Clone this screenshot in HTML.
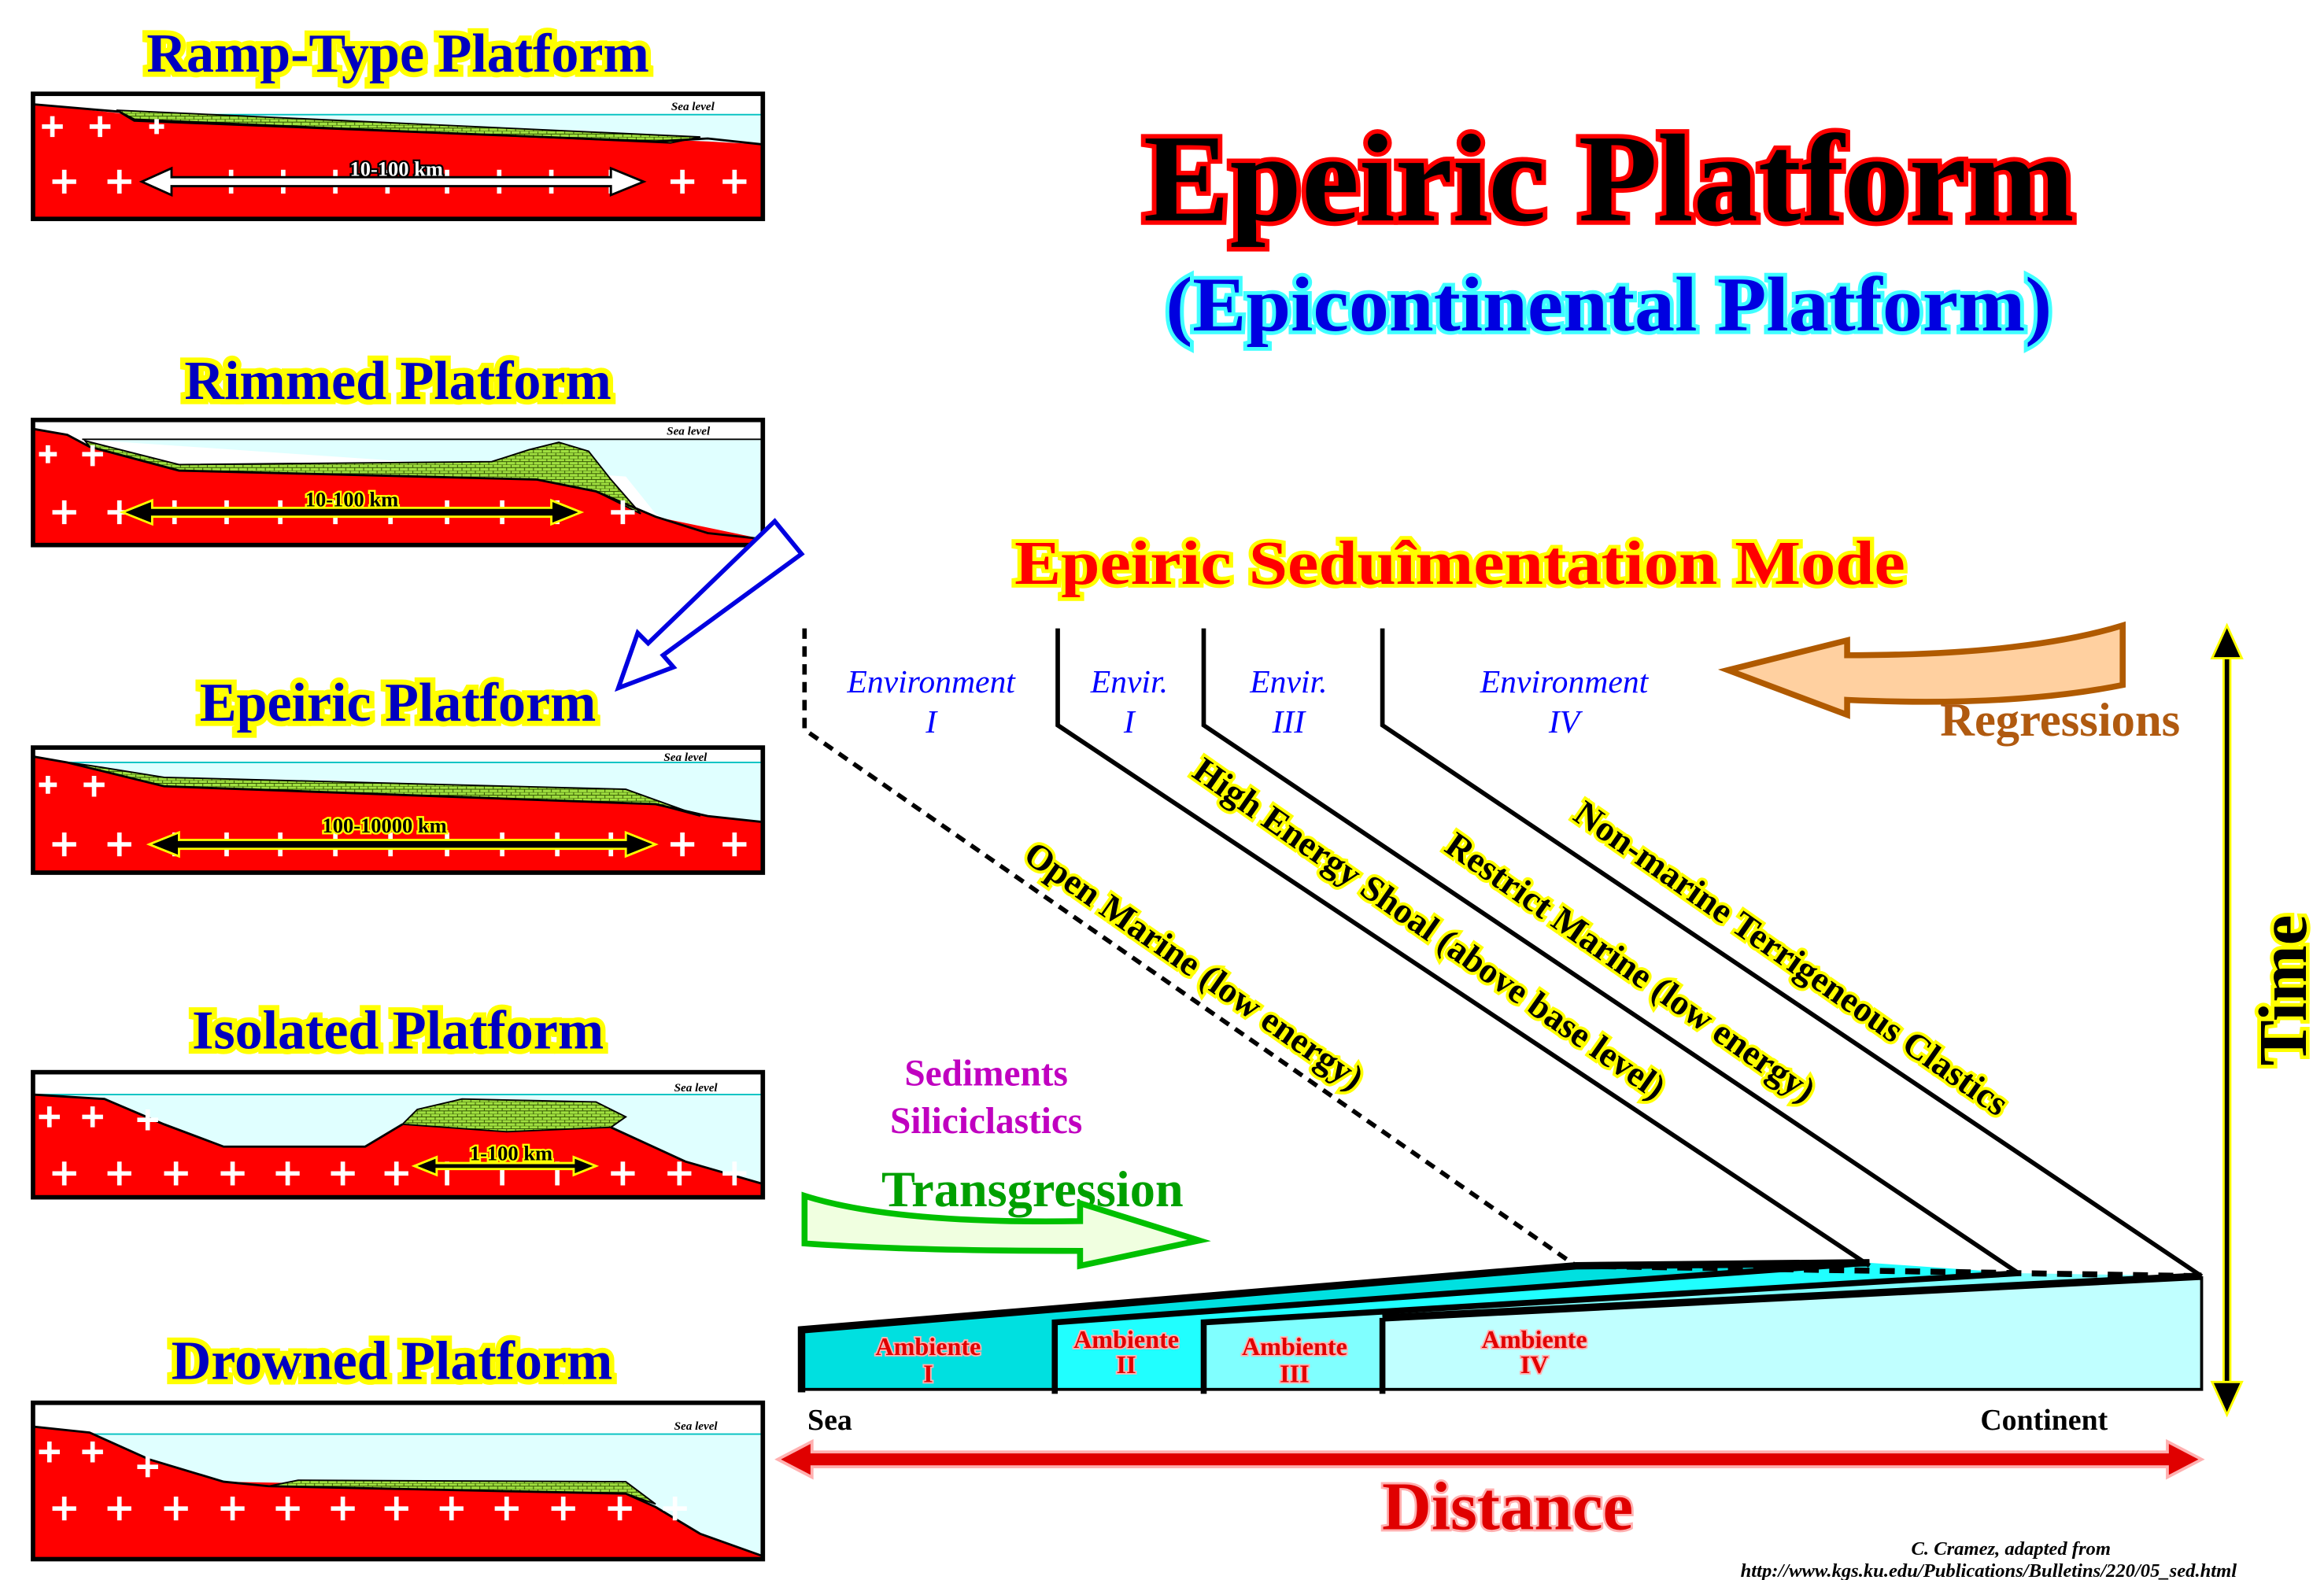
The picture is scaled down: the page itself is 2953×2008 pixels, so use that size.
<!DOCTYPE html>
<html><head><meta charset="utf-8"><style>
html,body{margin:0;padding:0;background:#fff}
svg{display:block}
text{font-family:"Liberation Serif",serif;font-weight:bold}
.ttl{fill:#0000c0;stroke:#ffff00;stroke-width:7;paint-order:stroke;font-size:37px;text-anchor:middle}
.env{fill:#0000ff;font-style:italic;font-size:22px;text-anchor:middle;font-weight:normal}
.diag{fill:#000;stroke:#ffff00;stroke-width:4;paint-order:stroke;font-size:24px;text-anchor:middle}
.amb{fill:#e00000;font-size:17px;text-anchor:middle;stroke:#ffb0b0;stroke-width:2;paint-order:stroke}
</style></head><body>
<svg width="2953" height="2008" viewBox="0 0 1560 1061" xmlns="http://www.w3.org/2000/svg">
<defs>
<pattern id="lime" width="6" height="4" patternUnits="userSpaceOnUse">
<rect width="6" height="4" fill="#a0e040"/><path d="M0 0H6M0 2H6M1 0V2M4 2V4" stroke="#305000" stroke-width="0.5"/>
</pattern>
<g id="crosses" stroke="#fff" stroke-width="3">
</g>
</defs>

<!-- Panel titles -->
<text class="ttl" x="267" y="48">Ramp-Type Platform</text>
<text class="ttl" x="267" y="268">Rimmed Platform</text>
<text class="ttl" x="267" y="484">Epeiric Platform</text>
<text class="ttl" x="267" y="704">Isolated Platform</text>
<text class="ttl" x="263" y="926">Drowned Platform</text>

<!-- Panel 1 Ramp -->
<g>
<rect x="22" y="63" width="490" height="84" fill="#fff"/>
<path d="M22 77H512V97L22 97Z" fill="#e0ffff"/>
<line x1="75" y1="77" x2="512" y2="77" stroke="#00c0c0"/>
<path d="M22 70L80 76L90 80L475 95L512 97V147H22Z" fill="#f00"/>
<path d="M78 74L470 92L450 96L90 80Z" fill="url(#lime)" stroke="#000"/>
<path d="M22 70L80 75L90 81L440 95L475 93L512 97" fill="none" stroke="#000" stroke-width="1.5"/>
<g stroke="#fff" stroke-width="3">
<path d="M35 122h16M43 114v16M72 122h16M80 114v16M450 122h16M458 114v16M485 122h16M493 114v16"/>
<path d="M28 85h14M35 78v14M60 85h14M67 78v14M100 85h10M105 80v10"/>
<path d="M155 114v16M190 114v16M225 114v16M260 114v16M300 114v16M335 114v16M370 114v16M410 114v16"/>
</g>
<path d="M95 122L115 113V119H410V113L432 122L410 131V125H115V131Z" fill="#fff" stroke="#000" stroke-width="1.5"/>
<text x="266" y="118" font-size="14" text-anchor="middle" fill="#fff" stroke="#000" stroke-width="2.5" paint-order="stroke">10-100 km</text>
<text x="465" y="74" font-size="8" font-style="italic" text-anchor="middle">Sea level</text>
<rect x="22" y="63" width="490" height="84" fill="none" stroke="#000" stroke-width="3"/>
</g>

<!-- Panel 2 Rimmed -->
<g>
<rect x="22" y="282" width="490" height="84" fill="#fff"/>
<path d="M55 295H512V366H480L440 345L420 320Z" fill="#e0ffff"/>
<line x1="55" y1="295" x2="512" y2="295" stroke="#000" stroke-width="1"/>
<path d="M22 288L45 292L60 300L120 316L360 322L400 330L440 347L512 362V366H22Z" fill="#f00"/>
<path d="M57 296L120 312L330 310L355 302L375 297L395 303L410 322L430 345L400 330L360 322L120 316L60 300Z" fill="url(#lime)" stroke="#000"/>
<path d="M22 288L45 292L60 300L120 316L360 322L400 330L440 347L475 358L512 362" fill="none" stroke="#000" stroke-width="1.5"/>
<g stroke="#fff" stroke-width="3">
<path d="M35 344h16M43 336v16M72 344h16M80 336v16M410 344h16M418 336v16M26 305h12M32 299v12M55 305h14M62 299v14"/>
<path d="M117 336v16M152 336v16M188 336v16M225 336v16M262 336v16M300 336v16M337 336v16M374 336v16"/>
</g>
<path d="M82 344L102 336V341H370V336L390 344L370 352V347H102V352Z" fill="#000" stroke="#ff0" stroke-width="1.5"/>
<text x="236" y="340" font-size="14" text-anchor="middle" fill="#000" stroke="#ff0" stroke-width="2.5" paint-order="stroke">10-100 km</text>
<text x="462" y="292" font-size="8" font-style="italic" text-anchor="middle">Sea level</text>
<rect x="22" y="282" width="490" height="84" fill="none" stroke="#000" stroke-width="3"/>
</g>

<!-- Panel 3 Epeiric -->
<g>
<rect x="22" y="502" width="490" height="84" fill="#fff"/>
<path d="M40 512H512V586H22Z" fill="#e0ffff"/>
<line x1="40" y1="512" x2="512" y2="512" stroke="#00c0c0"/>
<path d="M22 508L45 512L110 528L440 540L475 548L512 552V586H22Z" fill="#f00"/>
<path d="M45 512L60 514L110 522L420 530L470 548L440 540L110 528Z" fill="url(#lime)" stroke="#000"/>
<path d="M22 508L45 512L110 528L440 540L475 548L512 552" fill="none" stroke="#000" stroke-width="1.5"/>
<g stroke="#fff" stroke-width="3">
<path d="M35 567h16M43 559v16M72 567h16M80 559v16M450 567h16M458 559v16M485 567h16M493 559v16M26 527h12M32 521v12M56 527h14M63 521v14"/>
<path d="M117 559v16M152 559v16M188 559v16M225 559v16M262 559v16M300 559v16M337 559v16M374 559v16M410 559v16"/>
</g>
<path d="M100 567L120 559V564H420V559L440 567L420 575V570H120V575Z" fill="#000" stroke="#ff0" stroke-width="1.5"/>
<text x="258" y="559" font-size="14" text-anchor="middle" fill="#000" stroke="#ff0" stroke-width="2.5" paint-order="stroke">100-10000 km</text>
<text x="460" y="511" font-size="8" font-style="italic" text-anchor="middle">Sea level</text>
<rect x="22" y="502" width="490" height="84" fill="none" stroke="#000" stroke-width="3"/>
</g>

<!-- Panel 4 Isolated -->
<g>
<rect x="22" y="720" width="490" height="84" fill="#fff"/>
<path d="M22 735H512V804H22Z" fill="#e0ffff"/>
<line x1="22" y1="735" x2="512" y2="735" stroke="#00c0c0"/>
<path d="M22 735L70 738L110 755L150 770L245 770L270 755L410 757L460 780L512 795V804H22Z" fill="#f00"/>
<path d="M270 755L280 745L310 738L400 740L420 750L410 757L340 760Z" fill="url(#lime)" stroke="#000"/>
<path d="M22 735L70 738L110 755L150 770L245 770L270 755M410 757L460 780L512 795" fill="none" stroke="#000" stroke-width="1.5"/>
<g stroke="#fff" stroke-width="3">
<path d="M35 788h16M43 780v16M72 788h16M80 780v16M110 788h16M118 780v16M148 788h16M156 780v16M185 788h16M193 780v16M222 788h16M230 780v16M258 788h16M266 780v16M410 788h16M418 780v16M448 788h16M456 780v16M485 788h16M493 780v16"/>
<path d="M26 750h14M33 743v14M55 750h14M62 743v14M92 752h14M99 745v14"/>
<path d="M300 780v16M337 780v16M374 780v16"/>
</g>
<path d="M278 783L293 777V781H385V777L400 783L385 789V785H293V789Z" fill="#000" stroke="#ff0" stroke-width="1.5"/>
<text x="343" y="779" font-size="14" text-anchor="middle" fill="#000" stroke="#ff0" stroke-width="2.5" paint-order="stroke">1-100 km</text>
<text x="467" y="733" font-size="8" font-style="italic" text-anchor="middle">Sea level</text>
<rect x="22" y="720" width="490" height="84" fill="none" stroke="#000" stroke-width="3"/>
</g>

<!-- Panel 5 Drowned -->
<g>
<rect x="22" y="942" width="490" height="105" fill="#fff"/>
<path d="M60 963H512V1047H22Z" fill="#e0ffff"/>
<line x1="60" y1="963" x2="512" y2="963" stroke="#00c0c0"/>
<path d="M22 958L60 962L100 980L150 995L420 1000L470 1030L512 1045V1047H22Z" fill="#f00"/>
<path d="M180 998L200 994L420 995L440 1010L420 1003Z" fill="url(#lime)" stroke="#000"/>
<path d="M22 958L60 962L100 980L150 995L180 998L420 1003L440 1012L470 1030L512 1045" fill="none" stroke="#000" stroke-width="1.5"/>
<g stroke="#fff" stroke-width="3">
<path d="M35 1013h16M43 1005v16M72 1013h16M80 1005v16M110 1013h16M118 1005v16M148 1013h16M156 1005v16M185 1013h16M193 1005v16M222 1013h16M230 1005v16M258 1013h16M266 1005v16M295 1013h16M303 1005v16M332 1013h16M340 1005v16M370 1013h16M378 1005v16M408 1013h16M416 1005v16M445 1013h16M453 1005v16"/>
<path d="M26 975h14M33 968v14M55 975h14M62 968v14M92 985h14M99 978v14"/>
</g>
<text x="467" y="960" font-size="8" font-style="italic" text-anchor="middle">Sea level</text>
<rect x="22" y="942" width="490" height="105" fill="none" stroke="#000" stroke-width="3"/>
</g>

<!-- Blue hollow arrow -->
<path d="M520 350L538 372L445 440L452 448L415 462L428 425L435 432Z" fill="#fff" stroke="#0000e0" stroke-width="3"/>

<!-- Main titles -->
<text x="1080" y="148" font-size="84" text-anchor="middle" fill="#000" stroke="#ff0000" stroke-width="6" paint-order="stroke" textLength="625" lengthAdjust="spacingAndGlyphs">Epeiric Platform</text>
<text x="1080" y="222" font-size="52" text-anchor="middle" fill="#0000e0" stroke="#40ffff" stroke-width="5" paint-order="stroke" textLength="595" lengthAdjust="spacingAndGlyphs">(Epicontinental Platform)</text>
<text x="980" y="392" font-size="42" text-anchor="middle" fill="#ff0000" stroke="#ffff00" stroke-width="5" paint-order="stroke" textLength="598" lengthAdjust="spacingAndGlyphs">Epeiric Seduîmentation Mode</text>

<!-- Environment labels -->
<text class="env" x="625" y="465">Environment</text><text class="env" x="625" y="492">I</text>
<text class="env" x="758" y="465">Envir.</text><text class="env" x="758" y="492">I</text>
<text class="env" x="865" y="465">Envir.</text><text class="env" x="865" y="492">III</text>
<text class="env" x="1050" y="465">Environment</text><text class="env" x="1050" y="492">IV</text>

<!-- Wedge -->
<path d="M538 893L1058 850L1478 857V933H538Z" fill="#c0ffff"/>
<path d="M538 893L1058 850L1255 848L708 888V933H538Z" fill="#00e0e0"/>
<path d="M708 888L1255 848L1355 855L808 888V933H708Z" fill="#20ffff"/>
<path d="M808 888L1355 855L1478 857L928 885V933H808Z" fill="#80ffff"/>
<path d="M928 885L1478 857" stroke="#000" stroke-width="5" fill="none"/>
<path d="M538 935V893L1058 850L1255 848" stroke="#000" stroke-width="5" fill="none"/>
<path d="M708 936V888L1255 848" stroke="#000" stroke-width="4" fill="none"/>
<path d="M808 936V888L1355 855" stroke="#000" stroke-width="4" fill="none"/>
<path d="M928 936V885" stroke="#000" stroke-width="4" fill="none"/>
<path d="M538 933H1478V857" stroke="#000" stroke-width="2" fill="none"/>
<path d="M1058 850L1478 857" stroke="#000" stroke-width="4" stroke-dasharray="10 7" fill="none"/>

<text class="amb" x="623" y="910">Ambiente</text><text class="amb" x="623" y="928">I</text>
<text class="amb" x="756" y="905">Ambiente</text><text class="amb" x="756" y="922">II</text>
<text class="amb" x="869" y="910">Ambiente</text><text class="amb" x="869" y="928">III</text>
<text class="amb" x="1030" y="905">Ambiente</text><text class="amb" x="1030" y="922">IV</text>

<!-- Time lines -->
<path d="M540 422V490L1058 850" stroke="#000" stroke-width="3" stroke-dasharray="7 5" fill="none"/>
<path d="M710 422V487L1255 850" stroke="#000" stroke-width="3" fill="none"/>
<path d="M808 422V487L1355 855" stroke="#000" stroke-width="3" fill="none"/>
<path d="M928 422V487L1478 857" stroke="#000" stroke-width="3" fill="none"/>

<!-- Diagonal labels -->
<text class="diag" transform="translate(797,655) rotate(35)">Open Marine (low energy)</text>
<text class="diag" transform="translate(955,630) rotate(35)">High Energy Shoal (above base level)</text>
<text class="diag" transform="translate(1090,656) rotate(35)">Restrict Marine (low energy)</text>
<text class="diag" transform="translate(1198,650) rotate(35)">Non-marine Terrigeneous Clastics</text>

<!-- Regressions arrow -->
<path d="M1425 420V460Q1350 475 1240 470V480L1160 450L1240 430V440Q1360 440 1425 420Z" fill="#ffd0a0" stroke="#b05a00" stroke-width="4"/>
<text x="1383" y="494" font-size="32" text-anchor="middle" fill="#b05a10">Regressions</text>

<!-- Time arrow -->
<line x1="1495" y1="438" x2="1495" y2="932" stroke="#ff0" stroke-width="6"/>
<line x1="1495" y1="438" x2="1495" y2="932" stroke="#000" stroke-width="3"/>
<path d="M1495 420L1485 442H1505Z M1495 950L1485 928H1505Z" fill="#000" stroke="#ff0" stroke-width="1.5"/>
<text transform="translate(1548,665) rotate(-90)" font-size="46" text-anchor="middle" fill="#000" stroke="#ff0" stroke-width="5" paint-order="stroke">Time</text>

<!-- Sediments / Transgression -->
<text x="662" y="729" font-size="25" text-anchor="middle" fill="#c000c0" font-weight="normal" style="font-weight:bold">Sediments</text>
<text x="662" y="761" font-size="25" text-anchor="middle" fill="#c000c0">Siliciclastics</text>
<text x="693" y="810" font-size="34" text-anchor="middle" fill="#00a000">Transgression</text>
<path d="M540 803Q600 822 725 820V808L805 833L725 850V840Q610 840 540 835Z" fill="#f0ffe0" stroke="#00c000" stroke-width="4"/>

<!-- Sea / Continent / Distance -->
<text x="542" y="960" font-size="20">Sea</text>
<text x="1415" y="960" font-size="20" text-anchor="end">Continent</text>
<path d="M522 980L545 968V975H1455V968L1478 980L1455 992V985H545V992Z" fill="#e00000" stroke="#ffb0b0" stroke-width="2"/>
<text x="1012" y="1027" font-size="46" text-anchor="middle" fill="#e00000" stroke="#ffb0b0" stroke-width="3" paint-order="stroke">Distance</text>

<text x="1350" y="1044" font-size="13" font-style="italic" text-anchor="middle">C. Cramez, adapted from</text>
<text x="1335" y="1059" font-size="13" font-style="italic" text-anchor="middle">http://www.kgs.ku.edu/Publications/Bulletins/220/05_sed.html</text>
</svg>
</body></html>
